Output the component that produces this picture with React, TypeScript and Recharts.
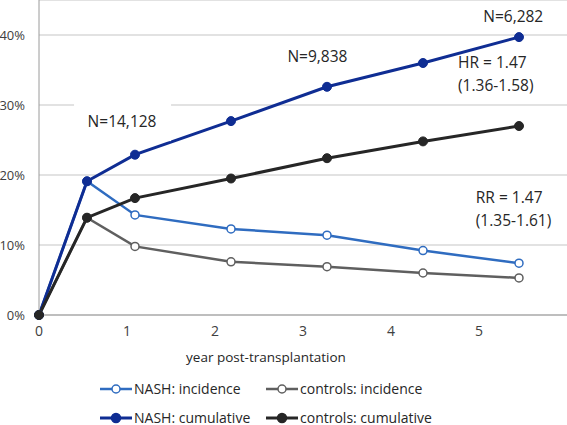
import { CartesianGrid, Legend, Line, LineChart, ReferenceDot, XAxis, YAxis } from 'recharts'

const years = [0, 0.5, 1, 2, 3, 4, 5]
const nashIncidence = [0, 0.191, 0.143, 0.123, 0.114, 0.092, 0.074]
const controlsIncidence = [0, 0.139, 0.098, 0.076, 0.069, 0.06, 0.053]
const nashCumulative = [0, 0.191, 0.229, 0.277, 0.326, 0.36, 0.397]
const controlsCumulative = [0, 0.139, 0.167, 0.195, 0.224, 0.248, 0.27]

const yTicks = [0, 0.1, 0.2, 0.3, 0.4]
const yearTicks = [0, 1, 2, 3, 4, 5]

// annotations in data coordinates (year, share)
const notes = [
  { x: 0.865, y: 0.277, lines: ['N=14,128'], anchor: 'middle', boxed: true },
  { x: 2.9, y: 0.369, lines: ['N=9,838'], anchor: 'middle' },
  { x: 4.94, y: 0.427, lines: ['N=6,282'], anchor: 'middle' },
  { x: 4.365, y: 0.344, lines: ['HR = 1.47', '(1.36-1.58)'], anchor: 'start' },
  { x: 4.55, y: 0.151, lines: ['RR = 1.47', '(1.35-1.61)'], anchor: 'start' },
]

const C = {
  nashInc: '#2f6cc0',
  ctrlInc: '#5f5f5f',
  nashCum: '#0f2d93',
  ctrlCum: '#262626',
}

const FONT = '"Open Sans", sans-serif'

const data = years.map((year, i) => ({
  year,
  nashInc: nashIncidence[i],
  ctrlInc: controlsIncidence[i],
  nashCum: nashCumulative[i],
  ctrlCum: controlsCumulative[i],
}))

const legendOrder = ['nashInc', 'ctrlInc', 'nashCum', 'ctrlCum']
const filledKeys = ['nashCum', 'ctrlCum']

function LegendBox(props: any) {
  const items = [...(props.payload || [])].sort(
    (a: any, b: any) => legendOrder.indexOf(a.dataKey) - legendOrder.indexOf(b.dataKey),
  )
  return (
    <div style={{ display: 'grid', gridTemplateColumns: '166px 240px', paddingLeft: 100, paddingTop: 1, fontFamily: FONT, fontSize: 14, color: '#262626' }}>
      {items.map((it: any) => {
        const filled = filledKeys.includes(it.dataKey)
        return (
          <div key={it.value} style={{ display: 'flex', alignItems: 'center', height: 29, lineHeight: '18px', whiteSpace: 'nowrap' }}>
            <svg width={32} height={12} style={{ marginRight: 2 }}>
              <line x1={0} y1={6} x2={32} y2={6} stroke={it.color} strokeWidth={filled ? 3 : 2.5} />
              <circle cx={16} cy={6} r={filled ? 4.5 : 4} fill={filled ? it.color : '#fff'} stroke={it.color} strokeWidth={1.5} />
            </svg>
            <span>{it.value}</span>
          </div>
        )
      })}
    </div>
  )
}

function Note(props: any, note: any) {
  const { cx, cy } = props
  const lh = 23
  const top = cy - ((note.lines.length - 1) * lh) / 2
  return (
    <g>
      {note.boxed && <rect x={cx - 48} y={cy - 26} width={97} height={46} fill="#fff" />}
      {note.lines.map((t: string, i: number) => (
        <text key={t} x={cx} y={top + i * lh} dy="0.35em" textAnchor={note.anchor} fontFamily={FONT} fontSize={15.5} fill="#262626">
          {t}
        </text>
      ))}
    </g>
  )
}

function AxisTitle(props: any) {
  const vb = props.viewBox || {}
  return (
    <text x={vb.x + vb.width / 2 - 37} y={vb.y + 42} dy="0.35em" textAnchor="middle" fontFamily={FONT} fontSize={13.5} fill="#262626">
      year post-transplantation
    </text>
  )
}

export default function App() {
  return (
    <div style={{ position: 'absolute', left: 0, top: 0, background: '#fff' }}>
      <LineChart width={567} height={425} data={data} margin={{ top: 0, right: 0, bottom: 0, left: 0 }}>
        <CartesianGrid xAxisId="data" vertical={false} stroke="#c6c6c6" strokeWidth={1.2} />
        <XAxis xAxisId="data" dataKey="year" type="number" domain={[0, 5.5]} height={0} hide />
        <XAxis
          xAxisId="lbl"
          type="number"
          domain={[0, 6]}
          ticks={yearTicks}
          allowDataOverflow
          height={58}
          tickSize={0}
          tickMargin={11}
          stroke="#9a9a9a"
          tick={{ fill: '#404040', fontSize: 14, fontFamily: FONT }}
          label={{ content: AxisTitle }}
        />
        <YAxis
          width={39}
          domain={[0, 0.45]}
          ticks={yTicks}
          tickSize={0}
          tickMargin={14}
          stroke="#9a9a9a"
          tickFormatter={(v: number) => `${Math.round(v * 100)}%`}
          tick={{ fill: '#404040', fontSize: 13, fontFamily: FONT }}
        />
        <Legend verticalAlign="bottom" height={52} content={LegendBox} wrapperStyle={{ left: 0, width: 567 }} />
        <Line xAxisId="data" dataKey="nashInc" name="NASH: incidence" stroke={C.nashInc} strokeWidth={2.5} dot={{ r: 4, fill: '#fff', strokeWidth: 1.5 }} isAnimationActive={false} />
        <Line xAxisId="data" dataKey="ctrlInc" name="controls: incidence" stroke={C.ctrlInc} strokeWidth={2.5} dot={{ r: 4, fill: '#fff', strokeWidth: 1.5 }} isAnimationActive={false} />
        <Line xAxisId="data" dataKey="nashCum" name="NASH: cumulative" stroke={C.nashCum} strokeWidth={3} dot={{ r: 4.5, fill: C.nashCum, strokeWidth: 1 }} isAnimationActive={false} />
        <Line xAxisId="data" dataKey="ctrlCum" name="controls: cumulative" stroke={C.ctrlCum} strokeWidth={3} dot={{ r: 4.5, fill: C.ctrlCum, strokeWidth: 1 }} isAnimationActive={false} />
        {notes.map((n) => (
          <ReferenceDot key={n.lines[0]} xAxisId="data" x={n.x} y={n.y} r={1} ifOverflow="visible" shape={(p: any) => Note(p, n)} />
        ))}
      </LineChart>
    </div>
  )
}
